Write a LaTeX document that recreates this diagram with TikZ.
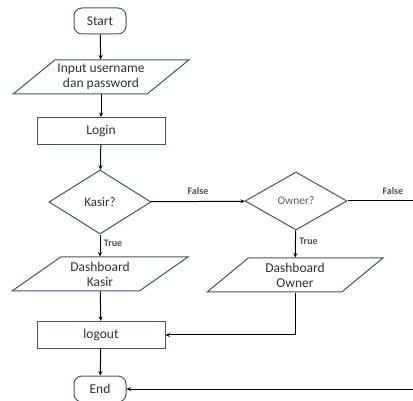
\documentclass[tikz,border=0pt]{standalone}
\usepackage{fontspec}
\setmainfont{Carlito}
\usetikzlibrary{shapes.geometric,arrows.meta}
\definecolor{edgecol}{HTML}{3B5766}
\definecolor{txtcol}{HTML}{303030}
\tikzset{
  terminal/.style={draw=edgecol, line width=1pt, rounded corners=8pt, minimum width=52pt, minimum height=26pt, inner sep=0pt, text=txtcol, font=\fontsize{13.5}{15}\selectfont},
  process/.style={draw=edgecol, line width=1pt, minimum width=128pt, minimum height=27pt, inner sep=0pt, text=txtcol, font=\fontsize{13.5}{15}\selectfont},
  io/.style={draw=edgecol, line width=1pt, trapezium, trapezium stretches=true, trapezium left angle=#1, trapezium right angle=180-#1, minimum width=176pt, minimum height=34pt, inner sep=0pt, align=center, text=txtcol, font=\fontsize{13.5}{15}\selectfont},
  decision/.style={draw=edgecol, line width=1pt, diamond, minimum width=102pt, inner sep=0pt, text=txtcol},
  flow/.style={line width=1pt, -{Stealth[length=4.5pt,width=4pt]}},
  branch/.style={font=\fontsize{10}{11}\selectfont\bfseries, text=txtcol!85}
}
\begin{document}
\begin{tikzpicture}[x=1pt, y=-1pt]
    \useasboundingbox (0,0) rectangle (413,401);
    \clip (0,0) rectangle (413,401);
    \node[terminal] (start) at (100,21) {Start};
    \node[io=33.4] (inp) at (101,77) {Input username\\dan password};
    \node[process] (login) at (101,131) {Login};
    \node[decision, minimum height=64pt, font=\fontsize{13}{14}\selectfont] (kasir) at (100,202) {Kasir?};
    \node[io=33.7] (dkasir) at (100,274) {Dashboard\\Kasir};
    \node[process] (logout) at (101,335) {logout};
    \node[terminal] (end) at (100,389) {End};
    \node[decision, minimum height=58pt, font=\fontsize{11.5}{12}\selectfont, text=txtcol!80] (owner) at (296,201) {Owner?};
    \node[io=43] (downer) at (295,275) {Dashboard\\Owner};
    \coordinate (out) at (430,201);

    \draw[flow] (start) -- (inp);
    \draw[flow] (inp) -- (login);
    \draw[flow] (login) -- (kasir);
    \draw[flow] (kasir) -- node[branch, right, pos=0.4] {True} (dkasir);
    \draw[flow] (dkasir) -- (logout);
    \draw[flow] (logout) -- (end);
    \draw[flow] (kasir) -- node[branch, above, yshift=3pt] {False} (owner);
    \draw[flow] (owner) -- node[branch, right, pos=0.4] {True} (downer);
    \draw[flow] (downer.south) |- (logout.east);
    \draw[flow] (owner.east) -- node[branch, above, yshift=3pt, pos=0.55] {False} (out) |- (end.east);
\end{tikzpicture}
\end{document}
